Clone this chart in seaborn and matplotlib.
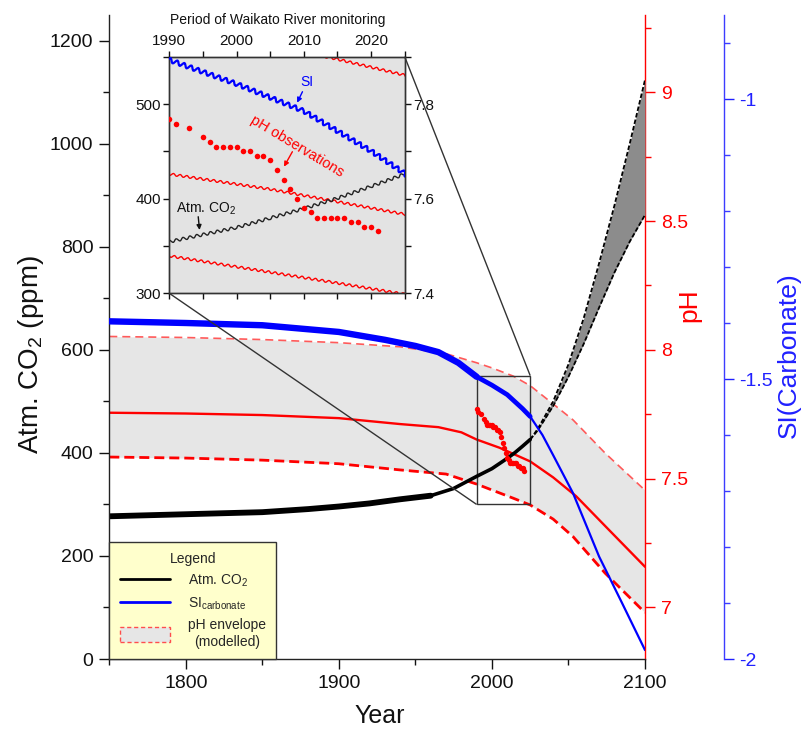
import matplotlib
matplotlib.use("Agg")
import numpy as np
import pandas as pd
import matplotlib.pyplot as plt
import seaborn as sns
from matplotlib.lines import Line2D
from matplotlib.patches import Patch
from matplotlib.ticker import MultipleLocator, FuncFormatter
from mpl_toolkits.axes_grid1.inset_locator import mark_inset

# ---------------- data ----------------
co2_years = [1750, 1800, 1850, 1880, 1900, 1920, 1940, 1960, 1975, 1990, 2000, 2005, 2010, 2015, 2020, 2025]
co2_ppm = [277, 281, 285, 291, 296, 302, 310, 317, 331, 354.5, 369.5, 379.5, 389.5, 400.5, 413, 426]

proj_years = [2025, 2030, 2040, 2050, 2060, 2070, 2080, 2090, 2100]
co2_proj_high = [426, 447, 500, 572, 662, 768, 880, 1000, 1124]
co2_proj_low = [426, 444, 491, 548, 612, 682, 750, 810, 862]

si_years = [1750, 1800, 1850, 1900, 1930, 1950, 1965, 1978, 1990, 2000, 2010, 2020, 2025, 2033, 2040,
            2053, 2070, 2085, 2100]
si_vals = [-1.397, -1.400, -1.404, -1.416, -1.430, -1.441, -1.452, -1.471, -1.496, -1.511, -1.528,
           -1.553, -1.567, -1.600, -1.636, -1.704, -1.817, -1.900, -1.984]

ph_years = [1750, 1800, 1850, 1900, 1940, 1965, 1980, 1990, 2005, 2025, 2040, 2055, 2075, 2100]
ph_mid = [7.756, 7.753, 7.747, 7.735, 7.712, 7.700, 7.680, 7.652, 7.620, 7.567, 7.505, 7.432, 7.310, 7.158]

env_years = [1750, 1800, 1850, 1900, 1940, 1970, 1990, 2000, 2014, 2025, 2040, 2053, 2074, 2100]
ph_upper = [8.052, 8.048, 8.040, 8.028, 8.012, 7.985, 7.950, 7.930, 7.898, 7.861, 7.790, 7.728, 7.599, 7.455]
ph_lower = [7.584, 7.580, 7.572, 7.558, 7.534, 7.518, 7.479, 7.456, 7.424, 7.398, 7.343, 7.275, 7.133, 6.980]

obs_years = [1990, 1991, 1993, 1995, 1996, 1997, 1998, 1999, 2000, 2001, 2002, 2003, 2004, 2005, 2006,
             2007, 2008, 2009, 2010, 2011, 2012, 2013, 2014, 2015, 2016, 2017, 2018, 2019, 2020, 2021]
obs_ph = [7.769, 7.758, 7.750, 7.730, 7.719, 7.709, 7.709, 7.709, 7.709, 7.700, 7.700, 7.690, 7.690, 7.681,
          7.660, 7.640, 7.620, 7.600, 7.581, 7.571, 7.560, 7.560, 7.560, 7.560, 7.560, 7.551, 7.551,
          7.540, 7.540, 7.531]

legend_labels = ["Atm. CO$_2$", "SI$_{\\mathrm{carbonate}}$", "pH envelope\n(modelled)"]

# ---------------- style ----------------
sns.set_theme(style="ticks")
plt.rcParams["font.family"] = ["Liberation Sans", "DejaVu Sans"]
plt.rcParams["mathtext.fontset"] = "custom"
plt.rcParams["mathtext.rm"] = "Liberation Sans"
plt.rcParams["mathtext.it"] = "Liberation Sans:italic"
plt.rcParams["mathtext.bf"] = "Liberation Sans:bold"
plt.rcParams["axes.edgecolor"] = "#222222"
plt.rcParams["axes.linewidth"] = 1.0

RED = "#ff0000"
BLUE = "#0000ff"
W, H = 807, 734
fig = plt.figure(figsize=(W / 100, H / 100), dpi=100)


def rect(l, t, r, b):
    return [l / W, 1 - b / H, (r - l) / W, (b - t) / H]


gfmt = FuncFormatter(lambda v, p: "%g" % v)

# ---------------- main axes ----------------
ax = fig.add_axes(rect(109.3, 15, 645, 659))
axp = ax.twinx()
axs = ax.twinx()
axp.set_zorder(1)
ax.set_zorder(2)
axs.set_zorder(3)
axp.patch.set_visible(True)
axp.patch.set_facecolor("white")
ax.patch.set_visible(False)
axs.patch.set_visible(False)

# pH envelope + pH lines
axp.fill_between(env_years, ph_lower, ph_upper, color="#e6e6e6", lw=0)
sns.lineplot(x=env_years, y=ph_upper, ax=axp, color="#ff5a5a", lw=1.2, linestyle=(0, (4.8, 3)))
sns.lineplot(x=env_years, y=ph_lower, ax=axp, color=RED, lw=2.0, linestyle=(0, (3.6, 1.8)))
sns.lineplot(x=ph_years, y=ph_mid, ax=axp, color=RED, lw=1.7)

# CO2
cy = np.array(co2_years)
cv = np.array(co2_ppm)
m1 = cy <= 1960
m2 = cy >= 1960
sns.lineplot(x=cy[m1], y=cv[m1], ax=ax, color="black", lw=4.2)
sns.lineplot(x=cy[m2], y=cv[m2], ax=ax, color="black", lw=2.6)
ax.fill_between(proj_years, co2_proj_low, co2_proj_high, color="#8c8c8c", lw=0)
sns.lineplot(x=proj_years, y=co2_proj_high, ax=ax, color="black", lw=1.3, linestyle=(0, (2.5, 1.2)))
sns.lineplot(x=proj_years, y=co2_proj_low, ax=ax, color="black", lw=1.3, linestyle=(0, (2.5, 1.2)))

# SI
sy = np.array(si_years)
sv = np.array(si_vals)
for msk, lw in [((sy <= 1990), 4.6), ((sy >= 1990) & (sy <= 2025), 3.4), ((sy >= 2025), 1.6)]:
    sns.lineplot(x=sy[msk], y=sv[msk], ax=axs, color=BLUE, lw=lw)

# observations (pH scale)
sns.scatterplot(x=obs_years, y=obs_ph, ax=axs, color=RED, s=15, linewidth=0,
                transform=axp.transData, zorder=6)

ax.set_xlim(1750, 2100)
ax.set_ylim(0, 1250)
axp.set_ylim(6.8, 9.3)
axs.set_ylim(-2.0, -0.85)

ax.xaxis.set_major_locator(MultipleLocator(100))
ax.xaxis.set_minor_locator(MultipleLocator(50))
ax.yaxis.set_major_locator(MultipleLocator(200))
ax.yaxis.set_minor_locator(MultipleLocator(100))
axp.yaxis.set_major_locator(MultipleLocator(0.5))
axp.yaxis.set_minor_locator(MultipleLocator(0.25))
axs.yaxis.set_major_locator(MultipleLocator(0.5))
axs.yaxis.set_minor_locator(MultipleLocator(0.1))
axp.yaxis.set_major_formatter(gfmt)
axs.yaxis.set_major_formatter(gfmt)

for s in ["top", "right"]:
    ax.spines[s].set_visible(False)
for a in (axp, axs):
    for s in ["top", "left", "bottom"]:
        a.spines[s].set_visible(False)
axp.spines["right"].set_color(RED)
axs.spines["right"].set_color("#3c3cff")
axs.spines["right"].set_position(("outward", (723.5 - 645) * 0.72))

ax.tick_params(axis="both", which="major", direction="out", length=7.5, width=1,
               labelsize=14, colors="#111111", pad=4)
ax.tick_params(axis="both", which="minor", direction="out", length=4, width=1, colors="#111111")
axp.tick_params(axis="y", which="major", direction="out", length=7.5, width=1, labelsize=14,
                colors=RED, pad=4)
axp.tick_params(axis="y", which="minor", direction="out", length=4, width=1, colors=RED)
axs.tick_params(axis="y", which="major", direction="out", length=7.5, width=1, labelsize=14,
                colors="#2020ff", pad=4)
axs.tick_params(axis="y", which="minor", direction="out", length=4, width=1, colors="#3c3cff")

ax.set_xlabel("Year", fontsize=18, color="#111111")
ax.xaxis.set_label_coords(0.505, -0.0699)
ax.set_ylabel("Atm. CO$_2$ (ppm)", fontsize=20, color="#111111")
ax.yaxis.set_label_coords(-0.118, 0.472)
axp.set_ylabel("pH", fontsize=19, color=RED)
axp.yaxis.set_label_coords(1.0597, 0.55)
axs.set_ylabel("SI(Carbonate)", fontsize=19, color="#2020ff")
axs.yaxis.set_label_coords(1.2464, 0.472)

# legend
handles = [Line2D([], [], color="black", lw=2),
           Line2D([], [], color=BLUE, lw=2),
           Patch(facecolor="#e6e6e6", edgecolor="#ff4d4d", linestyle=(0, (3, 2)), lw=1)]
leg = axs.legend(handles, legend_labels, title="Legend", loc="lower left", bbox_to_anchor=(0, 0),
                 borderaxespad=0, frameon=True, fancybox=False, facecolor="#ffffcc",
                 edgecolor="#333333", framealpha=1, fontsize=10, title_fontsize=10,
                 handlelength=3.6, handleheight=1.3, handletextpad=1.3, labelspacing=0.45,
                 borderpad=0.75)
leg.get_frame().set_linewidth(1)
leg.get_texts()[2].set_multialignment("center")
leg.set_zorder(20)

# ---------------- inset ----------------
axi = fig.add_axes(rect(169.3, 56.7, 404.7, 293.3))
axi_p = axi.twinx()
axi_s = axi.twinx()
axi_p.set_zorder(10)
axi.set_zorder(11)
axi_s.set_zorder(12)
axi_p.patch.set_visible(True)
axi_p.patch.set_facecolor("#e3e3e3")
axi.patch.set_visible(False)
axi_s.axis("off")


def wiggle(a, amp, length):
    a.lines[-1].set_sketch_params(scale=amp, length=length, randomness=1.0)


sns.lineplot(x=env_years, y=ph_upper, ax=axi_p, color=RED, lw=1.0)
wiggle(axi_p, 1.2, 6.8)
sns.lineplot(x=env_years, y=ph_lower, ax=axi_p, color=RED, lw=1.0)
wiggle(axi_p, 1.2, 6.8)
sns.lineplot(x=ph_years, y=ph_mid, ax=axi_p, color=RED, lw=1.0)
wiggle(axi_p, 1.2, 6.8)
sns.lineplot(x=co2_years, y=co2_ppm, ax=axi, color="#222222", lw=1.0)
wiggle(axi, 1.5, 7.0)
sns.lineplot(x=si_years, y=si_vals, ax=axi_s, color=BLUE, lw=1.6)
wiggle(axi_s, 2.2, 7.4)
sns.scatterplot(x=obs_years, y=obs_ph, ax=axi_s, color=RED, s=16, linewidth=0,
                transform=axi_p.transData, zorder=6)

axi.set_xlim(1990, 2025)
axi.set_ylim(300, 550)
axi_p.set_ylim(7.4, 7.9)
axi_s.set_ylim(-1.642, -1.494)

axi.xaxis.set_major_locator(MultipleLocator(10))
axi.xaxis.set_minor_locator(MultipleLocator(5))
axi.yaxis.set_major_locator(MultipleLocator(100))
axi.yaxis.set_minor_locator(MultipleLocator(50))
axi_p.yaxis.set_major_locator(MultipleLocator(0.2))
axi_p.yaxis.set_minor_locator(MultipleLocator(0.1))
axi_p.yaxis.set_major_formatter(gfmt)
axi.tick_params(axis="x", which="both", top=True, bottom=True, labeltop=True, labelbottom=False)
axi.tick_params(axis="both", which="both", direction="out", length=4, width=1,
                labelsize=11, colors="#111111", pad=2)
axi_p.tick_params(axis="y", which="both", direction="out", length=4, width=1,
                  labelsize=11, colors="#111111", pad=2)
for a in (axi, axi_p):
    for s in a.spines.values():
        s.set_color("#333333")

axi.text(0.46, 1.155, "Period of Waikato River monitoring", transform=axi.transAxes,
         ha="center", va="center", fontsize=10, color="#111111")

# annotations
arrow = dict(arrowstyle="-|>", lw=1.0, mutation_scale=7, shrinkA=0, shrinkB=0)
axi_s.text(2010.4, 523.6, "SI", color=BLUE, fontsize=10, ha="center", va="center",
           transform=axi.transData)
axi_s.annotate("", xy=(2009.0, 501.4), xytext=(2009.8, 513), xycoords=axi.transData,
               textcoords=axi.transData, arrowprops=dict(arrow, color=BLUE))
axi_s.text(2009.0, 455, "pH observations", color=RED, fontsize=10.5, ha="center", va="center",
           rotation=-31, rotation_mode="anchor", transform=axi.transData)
axi_s.annotate("", xy=(2007.05, 433.8), xytext=(2008.3, 449.6), xycoords=axi.transData,
               textcoords=axi.transData, arrowprops=dict(arrow, color=RED))
axi_s.text(1995.4, 389.8, "Atm. CO$_2$", color="#111111", fontsize=10, ha="center", va="center",
           transform=axi.transData)
axi_s.annotate("", xy=(1994.5, 366.9), xytext=(1994.3, 380.9), xycoords=axi.transData,
               textcoords=axi.transData, arrowprops=dict(arrow, color="#111111"))

mark_inset(ax, axi, loc1=1, loc2=3, fc="none", ec="#333333", lw=1.0)

fig.savefig("out.png", dpi=100)
